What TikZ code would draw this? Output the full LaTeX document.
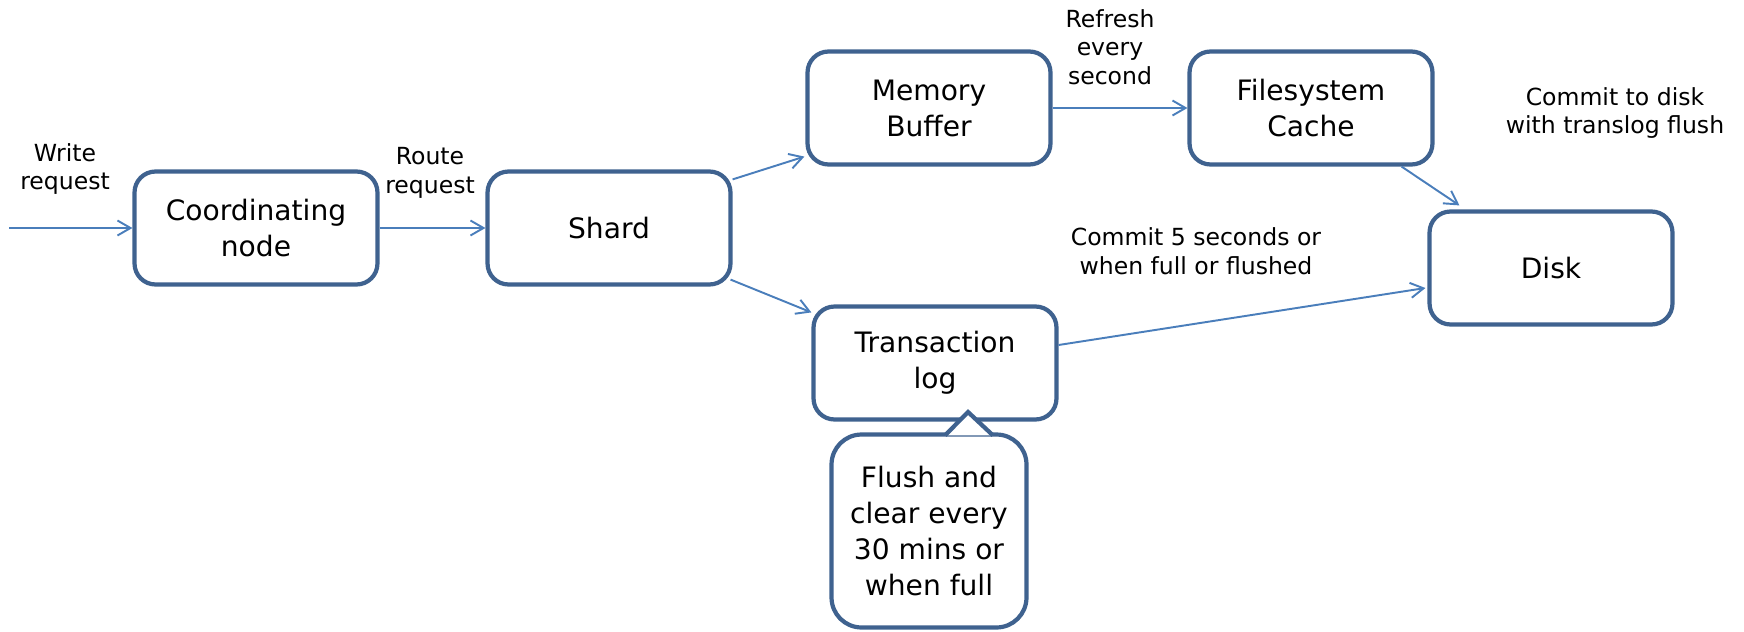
\documentclass[tikz,border=0pt]{standalone}
\usepackage{fontspec}
\setmainfont{DejaVu Sans}
\usetikzlibrary{arrows.meta, calc}
\definecolor{boxblue}{RGB}{63,98,143}
\definecolor{linkblue}{RGB}{74,126,187}
\tikzset{>={Straight Barb[length=2.6mm,width=3mm]}}
\tikzset{stepbox/.style={draw=boxblue, line width=2.4pt, rounded corners=0.42cm, fill=white,
    minimum width=4.86cm, minimum height=2.26cm, align=center, font=\fontsize{16}{20.5}\selectfont}}
\tikzset{link/.style={linkblue, line width=1.1pt, ->}}
\tikzset{lbl/.style={align=center, font=\fontsize{13.4}{16.2}\selectfont}}

\begin{document}
\begin{tikzpicture}[x=0.02cm, y=-0.02cm]
    \useasboundingbox (0,0) rectangle (1744,632);

    % boxes
    \node [stepbox] (coord) at (256,228) {Coordinating\\node};
    \node [stepbox] (shard) at (609,228) {Shard};
    \node [stepbox] (buffer) at (929,108) {Memory\\Buffer};
    \node [stepbox] (fscache) at (1311,108) {Filesystem\\Cache};
    \node [stepbox] (tlog) at (935,363) {Transaction\\log};
    \node [stepbox] (disk) at (1551,268) {Disk};

    % note hanging under the transaction log
    \node [stepbox, rounded corners=0.6cm, minimum width=3.9cm, minimum height=3.86cm] (note) at (929,531)
        {Flush and\\clear every\\30 mins or\\when full};
    \coordinate (tip) at (968,412);
    \fill [white] ($(note.north)+(16,3)$) -- (tip) -- ($(note.north)+(64,3)$) -- cycle;
    \draw [boxblue, line width=2.4pt] ($(note.north)+(16,3)$) -- (tip) -- ($(note.north)+(64,3)$);

    % arrows
    \coordinate (start) at (9,228);
    \draw [link] (start) -- (coord.west);
    \draw [link] (coord.east) -- (shard.west);
    \draw [link] ($(shard.north east)+(0,10)$) -- ($(buffer.south west)+(-1,-10)$);
    \draw [link] ($(shard.south east)+(-2,-7)$) -- ($(tlog.north west)+(0,8)$);
    \draw [link] (buffer.east) -- (fscache.west);
    \draw [link] ($(fscache.south east)+(-33,0)$) -- ($(disk.north west)+(32,-4)$);
    \draw [link] ($(tlog.east)+(0,-18)$) -- ($(disk.west)+(-2,20)$);

    % labels
    \node [lbl] (writelbl) at (65,169) {Write\\request};
    \node [lbl] (routelbl) at (430,173) {Route\\request};
    \node [lbl] (refreshlbl) at (1110,47) {Refresh\\every\\second};
    \node [lbl] (flushlbl) at (1615,113) {Commit to disk\\with translog flush};
    \node [lbl] (commitlbl) at (1196,251) {Commit 5 seconds or\\when full or flushed};
\end{tikzpicture}
\end{document}
